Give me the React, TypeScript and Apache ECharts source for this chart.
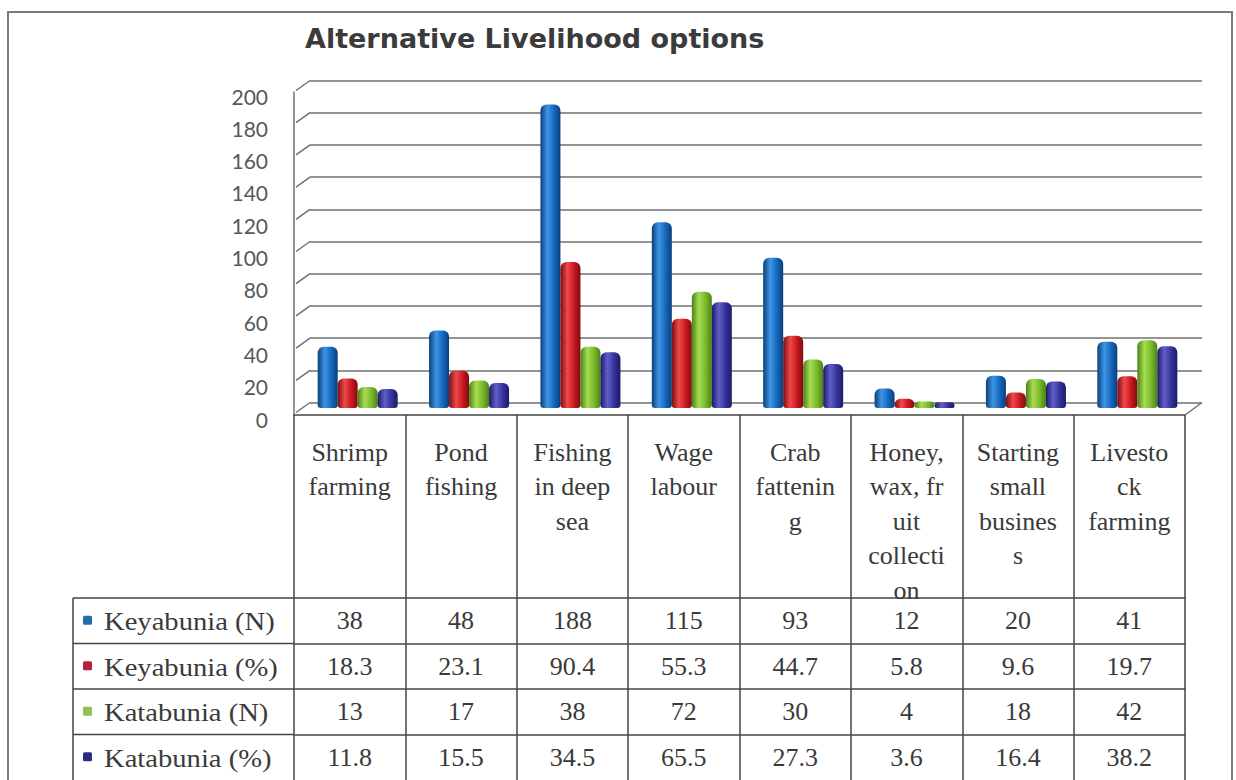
import React, { useEffect, useRef } from "react";
import * as echarts from "echarts";

// Livelihood options shown along the category axis
const categories = [
  "Shrimp farming",
  "Pond fishing",
  "Fishing in deep sea",
  "Wage labour",
  "Crab fattening",
  "Honey, wax, fruit collection",
  "Starting small business",
  "Livestock farming",
];

// Header cell text, wrapped the way the table column wraps it
const headerLabels = [
  "Shrimp\nfarming",
  "Pond\nfishing",
  "Fishing\nin deep\nsea",
  "Wage\nlabour",
  "Crab\nfattenin\ng",
  "Honey,\nwax, fr\nuit\ncollecti\non",
  "Starting\nsmall\nbusines\ns",
  "Livesto\nck\nfarming",
];

const seriesNames = ["Keyabunia (N)", "Keyabunia (%)", "Katabunia (N)", "Katabunia (%)"];

const keyabuniaN = [38, 48, 188, 115, 93, 12, 20, 41];
const keyabuniaPct = [18.3, 23.1, 90.4, 55.3, 44.7, 5.8, 9.6, 19.7];
const katabuniaN = [13, 17, 38, 72, 30, 4, 18, 42];
const katabuniaPct = [11.8, 15.5, 34.5, 65.5, 27.3, 3.6, 16.4, 38.2];

const valueTicks = [0, 20, 40, 60, 80, 100, 120, 140, 160, 180, 200];

const seriesValues = [keyabuniaN, keyabuniaPct, katabuniaN, katabuniaPct];

// cylinder shading: [dark edge, highlight, body]
const barShades = [
  ["#0a3f7a", "#3f94e4", "#1466bb"],
  ["#7d0c10", "#ee4a4a", "#c8171e"],
  ["#4a8214", "#a6dc52", "#78b82a"],
  ["#1c1a66", "#605ec8", "#34329a"],
];
const keyColors = ["#1f6fa8", "#b3223f", "#8ec24e", "#2d2b80"];

const lineColor = "#454545";
const gridColor = "#707070";
const serif = "'Liberation Serif', 'Times New Roman', serif";

// table geometry
const tableTop = 415;
const headerHeight = 183;
const rowHeight = 45.5;
const tableLeft = 73;
const plotLeft = 294;

function cylinder(c: string[]) {
  return new echarts.graphic.LinearGradient(0, 0, 1, 0, [
    { offset: 0, color: c[0] },
    { offset: 0.35, color: c[1] },
    { offset: 0.7, color: c[2] },
    { offset: 1, color: c[0] },
  ]);
}

export default function App() {
  const ref = useRef<HTMLDivElement>(null);

  useEffect(() => {
    if (!ref.current) return;
    const chart = echarts.init(ref.current, null, { renderer: "svg" });

    const rowAxes = seriesValues.map((vals, i) => ({
      type: "category",
      gridIndex: 2,
      position: "bottom",
      offset: headerHeight + i * rowHeight,
      data: vals.map((v) => String(v)),
      axisLine: { show: true, lineStyle: { color: lineColor, width: 1.5 } },
      axisTick: { show: true, length: rowHeight, lineStyle: { color: lineColor, width: 1.5 } },
      axisLabel: {
        interval: 0,
        margin: rowHeight / 2,
        verticalAlign: "middle",
        fontFamily: serif,
        fontSize: 26,
        color: "#3a3a3a",
      },
      splitLine: { show: false },
    }));

    const graphics: any[] = [
      {
        type: "rect",
        shape: { x: 8, y: 12, width: 1224, height: 800 },
        style: { fill: "none", stroke: "#7a7a7a", lineWidth: 2 },
        silent: true,
      },
      {
        type: "text",
        x: 305,
        y: 38,
        style: {
          text: "Alternative Livelihood options",
          font: "bold 27px 'DejaVu Sans', sans-serif",
          fill: "#3b3b3b",
          textVerticalAlign: "middle",
        },
      },
      {
        type: "line",
        shape: { x1: tableLeft, y1: tableTop + headerHeight, x2: tableLeft, y2: 800 },
        style: { stroke: lineColor, lineWidth: 1.5 },
      },
    ];

    seriesNames.forEach((name, i) => {
      const top = tableTop + headerHeight + i * rowHeight;
      graphics.push({
        type: "line",
        shape: { x1: tableLeft, y1: top, x2: plotLeft, y2: top },
        style: { stroke: lineColor, lineWidth: 1.5 },
      });
      graphics.push({
        type: "rect",
        shape: { x: 83, y: top + rowHeight / 2 - 5, width: 9, height: 9, r: 1.5 },
        style: { fill: keyColors[i] },
      });
      graphics.push({
        type: "text",
        x: 104,
        y: top + rowHeight / 2 + 1,
        scaleX: 1.1,
        style: {
          text: name,
          font: `26px ${serif}`,
          fill: "#3a3a3a",
          textVerticalAlign: "middle",
        },
      });
    });

    chart.setOption({
      animation: false,
      backgroundColor: "#ffffff",
      grid: [
        // bars (middle depth)
        { left: 302, top: 85, width: 891, height: 323 },
        // back wall
        { left: 310, top: 80.5, width: 892, height: 322 },
        // front plane with the data table underneath
        { left: plotLeft, top: 92, width: 891, height: 323 },
        // value labels along the front edge
        { left: plotLeft, top: 96, width: 891, height: 323 },
      ],
      xAxis: [
        { type: "category", gridIndex: 0, data: categories, show: false },
        { type: "category", gridIndex: 1, data: categories, show: false },
        {
          type: "category",
          gridIndex: 2,
          position: "bottom",
          data: headerLabels,
          axisLine: { show: true, lineStyle: { color: lineColor, width: 1.5 } },
          axisTick: { show: true, length: headerHeight, lineStyle: { color: lineColor, width: 1.5 } },
          axisLabel: {
            interval: 0,
            margin: 20,
            verticalAlign: "top",
            lineHeight: 34.5,
            fontFamily: serif,
            fontSize: 26,
            color: "#3a3a3a",
          },
          splitLine: { show: false },
        },
        ...rowAxes,
        { type: "category", gridIndex: 3, data: categories, show: false },
      ],
      yAxis: [
        { type: "value", gridIndex: 0, min: 0, max: 200, interval: 20, show: false },
        {
          type: "value",
          gridIndex: 1,
          min: 0,
          max: 200,
          interval: 20,
          axisLine: { show: false },
          axisTick: { show: false },
          axisLabel: { show: false },
          splitLine: { show: true, lineStyle: { color: gridColor, width: 1.5 } },
        },
        {
          type: "value",
          gridIndex: 2,
          min: 0,
          max: 200,
          interval: 20,
          axisLine: { show: true, lineStyle: { color: gridColor, width: 1.5 } },
          axisTick: { show: false },
          axisLabel: { show: false },
          splitLine: { show: false },
        },
        {
          type: "value",
          gridIndex: 3,
          min: 0,
          max: 200,
          interval: 20,
          axisLine: { show: false },
          axisTick: { show: false },
          splitLine: { show: false },
          axisLabel: {
            margin: 26,
            fontFamily: "Lato, 'Open Sans', sans-serif",
            fontSize: 21,
            color: "#585858",
          },
        },
      ],
      series: [
        {
          type: "custom",
          xAxisIndex: 1,
          yAxisIndex: 1,
          silent: true,
          z: 1,
          data: valueTicks.map((v) => [0, v]),
          renderItem: (params: any, api: any) => {
            const cs = params.coordSys;
            const v = api.value(1);
            const y = api.coord([0, v])[1];
            const style = { stroke: gridColor, lineWidth: 1.5, fill: "none" };
            const children: any[] = [
              { type: "line", shape: { x1: cs.x - 14, y1: y + 10, x2: cs.x, y2: y }, style },
            ];
            if (v === 0) {
              children.push({
                type: "line",
                shape: { x1: cs.x + cs.width, y1: y, x2: cs.x + cs.width - 17, y2: y + 12.5 },
                style,
              });
            }
            return { type: "group", children };
          },
        },
        ...seriesValues.map((vals, i) => ({
          type: "bar",
          name: seriesNames[i],
          xAxisIndex: 0,
          yAxisIndex: 0,
          z: 3,
          data: vals,
          barWidth: 20,
          barGap: "0%",
          itemStyle: {
            color: cylinder(barShades[i]),
            borderRadius: [6, 6, 3, 3],
          },
        })),
      ],
      graphic: graphics,
    });

    return () => chart.dispose();
  }, []);

  return (
    <div
      ref={ref}
      style={{ position: "absolute", left: 0, top: 0, width: 1236, height: 780, background: "#fff" }}
    />
  );
}
